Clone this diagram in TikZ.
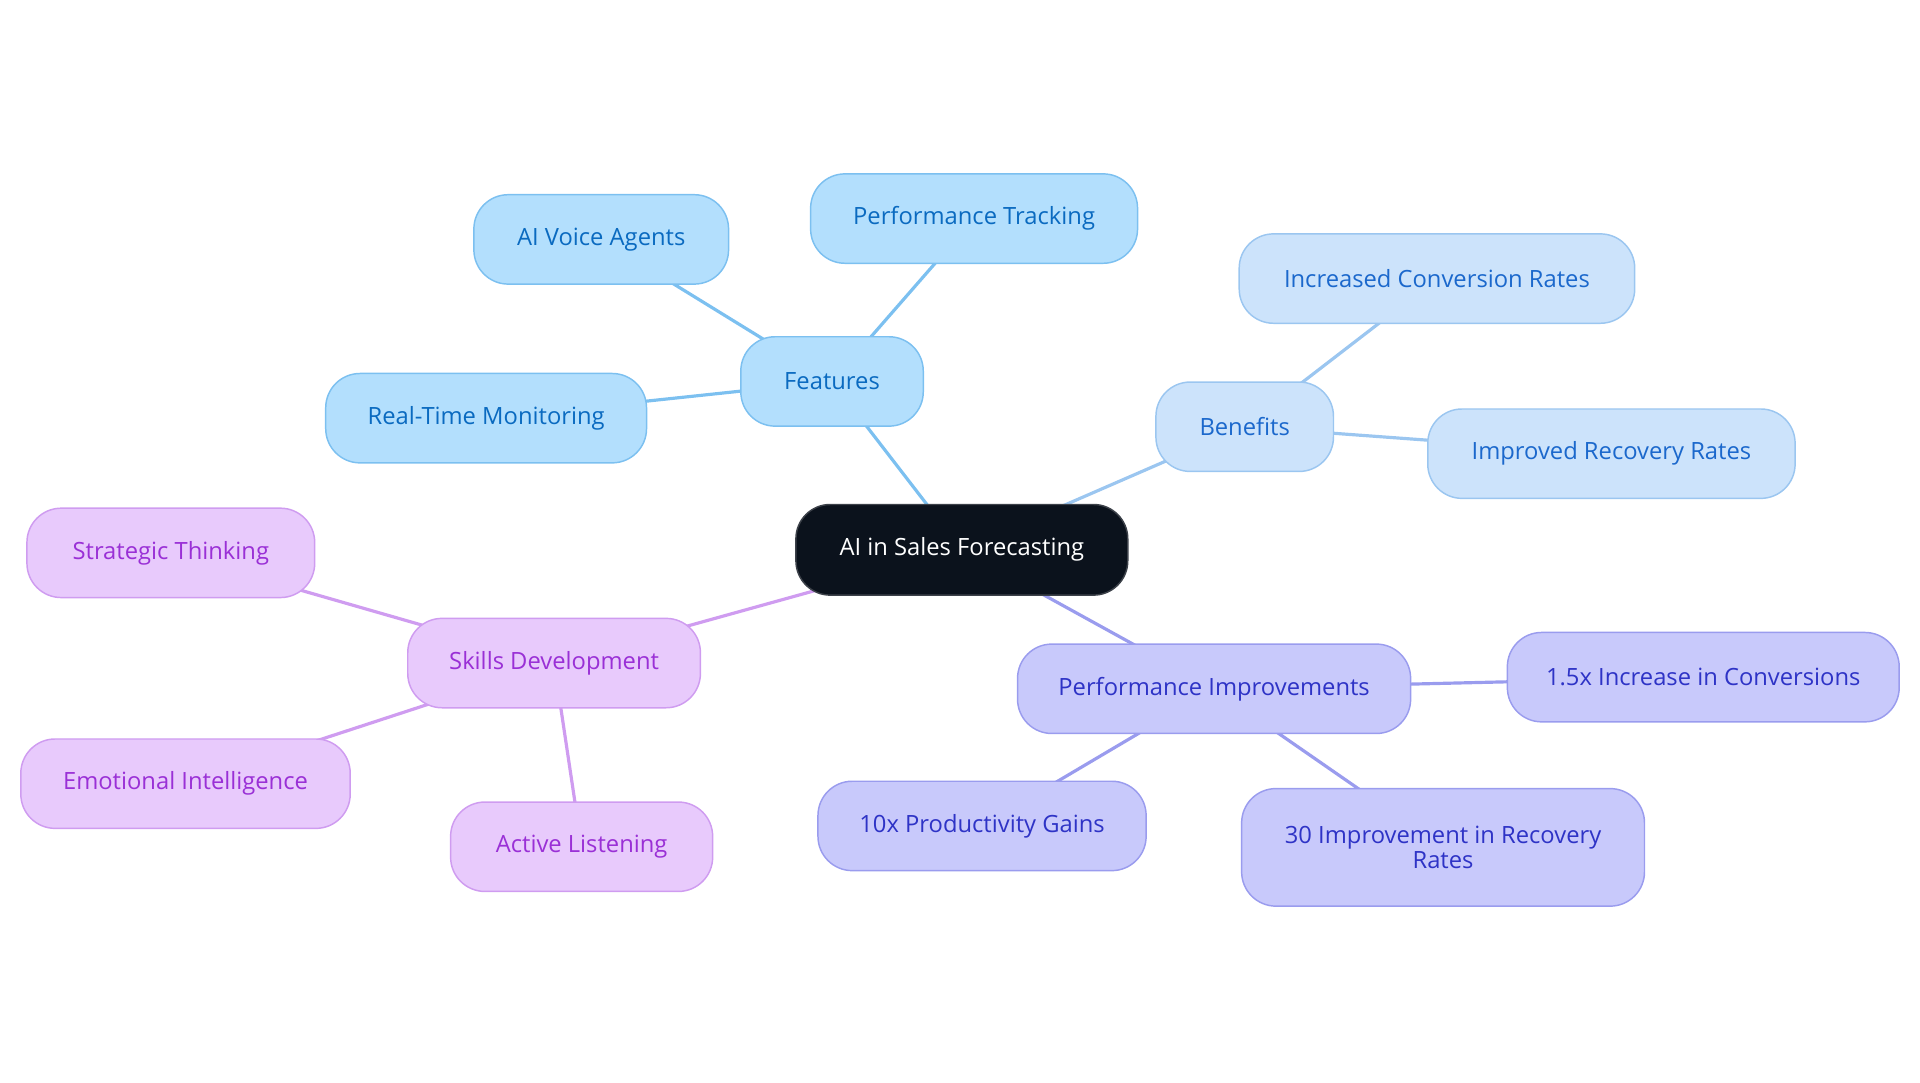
\documentclass[tikz,border=0pt]{standalone}
\usepackage{fontspec}
\setmainfont{Open Sans}
\usetikzlibrary{backgrounds}
\definecolor{fbfill}{HTML}{B3DFFD}
\definecolor{fbdraw}{HTML}{7CC0F0}
\definecolor{fbtext}{HTML}{0A6AC0}
\definecolor{bbfill}{HTML}{CCE3FB}
\definecolor{bbdraw}{HTML}{9BC6F0}
\definecolor{bbtext}{HTML}{1B68CC}
\definecolor{sbfill}{HTML}{E8CAFC}
\definecolor{sbdraw}{HTML}{CF9CF0}
\definecolor{sbtext}{HTML}{9A30D6}
\definecolor{pbfill}{HTML}{C8C9FB}
\definecolor{pbdraw}{HTML}{9A9CEE}
\definecolor{pbtext}{HTML}{2E33C6}
\definecolor{rootfill}{HTML}{0B121C}
\tikzset{
  pill/.style={rounded corners=28pt, line width=1.2pt, minimum height=73pt, inner sep=0pt, align=center, font=\fontsize{19.4}{22}\selectfont},
  rootnode/.style={pill, fill=rootfill, draw=rootfill!80!white, text=white},
  feat/.style={pill, fill=fbfill, draw=fbdraw, text=fbtext},
  bene/.style={pill, fill=bbfill, draw=bbdraw, text=bbtext},
  skil/.style={pill, fill=sbfill, draw=sbdraw, text=sbtext},
  perf/.style={pill, fill=pbfill, draw=pbdraw, text=pbtext},
  fedge/.style={draw=fbdraw, line width=2.6pt},
  bedge/.style={draw=bbdraw, line width=2.6pt},
  sedge/.style={draw=sbdraw, line width=2.6pt},
  pedge/.style={draw=pbdraw, line width=2.6pt},
}
\begin{document}
\begin{tikzpicture}[x=1pt,y=-1pt]
\useasboundingbox (0,0) rectangle (1568,884);
\node[rootnode, minimum width=271pt, minimum height=74pt] (root) at (785.5,449) {AI in Sales Forecasting};
\node[feat, minimum width=149pt] (features) at (679.5,311.5) {Features};
\node[feat, minimum width=208pt] (voice) at (491,195.5) {AI Voice Agents};
\node[feat, minimum width=267pt] (track) at (795.5,178.5) {Performance Tracking};
\node[feat, minimum width=262pt] (monitor) at (397,341.5) {Real-Time Monitoring};
\node[bene, minimum width=145pt] (benefits) at (1016.5,348.5) {Benefits};
\node[bene, minimum width=323pt] (conv) at (1173.5,227.5) {Increased Conversion Rates};
\node[bene, minimum width=300pt] (recov) at (1316,370.5) {Improved Recovery Rates};
\node[skil, minimum width=239pt] (skills) at (452.5,541.5) {Skills Development};
\node[skil, minimum width=235pt] (strat) at (139.5,451.5) {Strategic Thinking};
\node[skil, minimum width=269pt] (emo) at (151.5,640) {Emotional Intelligence};
\node[skil, minimum width=214pt] (listen) at (475,691.5) {Active Listening};
\node[perf, minimum width=321pt] (perfimp) at (991.5,562.5) {Performance Improvements};
\node[perf, minimum width=320pt] (incconv) at (1391,553) {1.5x Increase in Conversions};
\node[perf, minimum width=268pt] (prod) at (802,674.5) {10x Productivity Gains};
\node[perf, minimum width=329pt, minimum height=96pt] (thirty) at (1178.5,692) {30 Improvement in Recovery\\[-1pt]Rates};
\begin{scope}[on background layer]
\draw[fedge] (root.center) -- (features.center);
\draw[fedge] (features.center) -- (voice.center);
\draw[fedge] (features.center) -- (track.center);
\draw[fedge] (features.center) -- (monitor.center);
\draw[bedge] (root.center) -- (benefits.center);
\draw[bedge] (benefits.center) -- (conv.center);
\draw[bedge] (benefits.center) -- (recov.center);
\draw[sedge] (root.center) -- (skills.center);
\draw[sedge] (skills.center) -- (strat.center);
\draw[sedge] (skills.center) -- (emo.center);
\draw[sedge] (skills.center) -- (listen.center);
\draw[pedge] (root.center) -- (perfimp.center);
\draw[pedge] (perfimp.center) -- (incconv.center);
\draw[pedge] (perfimp.center) -- (prod.center);
\draw[pedge] (perfimp.center) -- (thirty.center);
\end{scope}
\end{tikzpicture}
\end{document}
